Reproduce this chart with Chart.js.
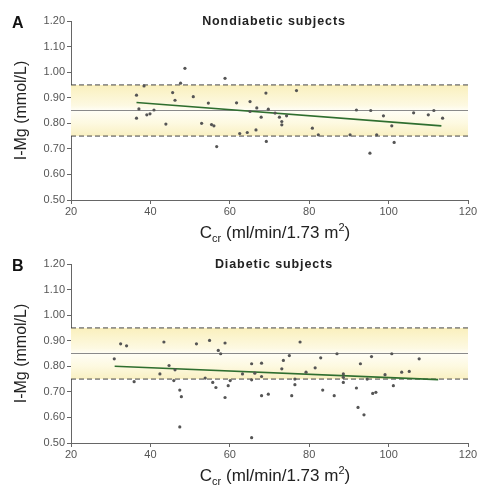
<!DOCTYPE html>
<html>
<head>
<meta charset="utf-8">
<script src="https://cdn.jsdelivr.net/npm/chart.js@4.4.0/dist/chart.umd.min.js"></script>
<style>
  html, body { margin: 0; padding: 0; background: #fff; }
  .panel { position: relative; width: 480px; height: 243px; }
</style>
</head>
<body>
<div class="panel"><canvas id="chartA" width="480" height="243"></canvas></div>
<div class="panel"><canvas id="chartB" width="480" height="243"></canvas></div>
<script>
// Panel A - nondiabetic subjects (Ccr, I-Mg)
const nondiabeticCcr = [36.5, 38.4, 36.5, 37.1, 39.1, 39.9, 40.9, 43.9, 45.6, 46.2, 47.6, 48.7, 50.8, 52.9, 54.6, 55.4, 56.0, 56.7, 58.8, 61.7,
  62.5, 64.4, 65.1, 65.1, 66.8, 66.6, 67.9, 69.1, 69.7, 69.2, 71.4, 72.5, 73.1, 73.1, 74.3, 76.8, 80.8, 82.3, 90.3, 91.9,
  95.5, 95.3, 97.0, 98.7, 100.8, 101.4, 106.3, 110.0, 111.4, 113.6];
const nondiabeticMg = [0.91, 0.946, 0.82, 0.856, 0.833, 0.837, 0.852, 0.797, 0.92, 0.89, 0.957, 1.015, 0.904, 0.80, 0.879, 0.795, 0.79, 0.709, 0.976, 0.88,
  0.76, 0.764, 0.885, 0.846, 0.86, 0.774, 0.824, 0.918, 0.855, 0.729, 0.84, 0.824, 0.807, 0.794, 0.829, 0.928, 0.781, 0.755, 0.755, 0.852,
  0.85, 0.683, 0.755, 0.829, 0.79, 0.725, 0.841, 0.833, 0.85, 0.82];
const nondiabeticTrendCcr = [36.5, 113.3];
const nondiabeticTrendMg = [0.881, 0.79];

// Panel B - diabetic subjects
const diabeticCcr = [30.9, 32.5, 34.0, 35.9, 42.4, 43.4, 44.7, 46.2, 45.9, 47.4, 47.8, 47.4, 51.6, 53.8, 54.9, 55.7, 56.5, 57.1, 57.7, 58.8,
  58.8, 59.6, 60.1, 63.2, 65.5, 68.0, 66.3, 65.5, 68.0, 68.0, 69.7, 65.5, 73.5, 73.1, 75.0, 77.7, 76.4, 75.6, 76.4, 79.2,
  81.5, 82.9, 83.4, 86.3, 87.0, 88.6, 88.6, 88.6, 91.9, 92.3, 92.9, 93.8, 94.6, 95.7, 96.0, 96.8, 99.1, 100.8, 101.2, 103.3,
  105.2, 107.7];
const diabeticMg = [0.829, 0.888, 0.88, 0.74, 0.77, 0.895, 0.803, 0.786, 0.744, 0.707, 0.681, 0.563, 0.888, 0.754, 0.901, 0.737, 0.717, 0.862, 0.849, 0.891,
  0.678, 0.724, 0.744, 0.77, 0.81, 0.812, 0.773, 0.747, 0.76, 0.685, 0.691, 0.521, 0.823, 0.79, 0.842, 0.895, 0.728, 0.685, 0.75, 0.777,
  0.794, 0.833, 0.707, 0.685, 0.849, 0.77, 0.737, 0.757, 0.715, 0.639, 0.81, 0.61, 0.75, 0.838, 0.694, 0.698, 0.767, 0.849, 0.724, 0.777,
  0.78, 0.829];
const diabeticTrendCcr = [31.0, 112.5];
const diabeticTrendMg = [0.80, 0.748];

// Reference range (mmol/L): lower limit, mean, upper limit
const refLower = 0.75;
const refMean = 0.85;
const refUpper = 0.95;

const xMin = 20, xMax = 120, xStep = 20;
const yMin = 0.5, yMax = 1.2, yStep = 0.1;

const FONT = '"Liberation Sans", Arial, sans-serif';

function pairs(xs, ys) {
  return xs.map((x, i) => ({ x, y: ys[i] }));
}

function hLine(y) {
  return [{ x: xMin, y }, { x: xMax, y }];
}

function bandGradient(ctx) {
  const chart = ctx.chart;
  const area = chart.chartArea;
  if (!area) return 'rgba(250,240,190,0.7)';
  const ys = chart.scales.y;
  const top = ys.getPixelForValue(refUpper);
  const bot = ys.getPixelForValue(refLower);
  const g = chart.ctx.createLinearGradient(0, top, 0, bot);
  g.addColorStop(0, '#faf0bd');
  g.addColorStop(0.4, '#fdf9e2');
  g.addColorStop(0.5, '#fffef6');
  g.addColorStop(0.75, '#fdf9e0');
  g.addColorStop(1, '#f9f0c2');
  return g;
}

// panel letter, bold title and x title with sub/superscript
const annotations = {
  id: 'annotations',
  afterDraw(chart, args, opts) {
    const { ctx } = chart;
    ctx.save();
    ctx.fillStyle = '#111';
    ctx.textBaseline = 'alphabetic';
    ctx.font = 'bold 16px ' + FONT;
    ctx.textAlign = 'left';
    ctx.fillText(opts.letter, 12, 28);

    ctx.font = 'bold 12.5px ' + FONT;
    ctx.textAlign = 'center';
    ctx.fillStyle = '#222';
    ctx.letterSpacing = '0.9px';
    ctx.fillText(opts.title, 274, 25);
    ctx.letterSpacing = '0px';

    // C_cr (ml/min/1.73 m^2)
    const parts = [
      { t: 'C', f: '17px ' + FONT, dy: 0 },
      { t: 'cr', f: '11px ' + FONT, dy: 4 },
      { t: ' (ml/min/1.73 m', f: '17px ' + FONT, dy: 0 },
      { t: '2', f: '11px ' + FONT, dy: -7 },
      { t: ')', f: '17px ' + FONT, dy: 0 }
    ];
    let total = 0;
    parts.forEach(p => { ctx.font = p.f; p.w = ctx.measureText(p.t).width; total += p.w; });
    let x = 275 - total / 2;
    const base = 238;
    ctx.textAlign = 'left';
    ctx.fillStyle = '#222';
    parts.forEach(p => {
      ctx.font = p.f;
      ctx.fillText(p.t, x, base + p.dy);
      x += p.w;
    });
    ctx.restore();
  }
};

function makeChart(id, letter, title, xs, ys, trendX, trendY) {
  return new Chart(document.getElementById(id), {
    type: 'line',
    data: {
      datasets: [
        {
          data: pairs(xs, ys), showLine: false, order: 0,
          pointStyle: 'circle', pointRadius: 1.6, pointHoverRadius: 1.6,
          pointBackgroundColor: '#555', pointBorderColor: '#555', pointBorderWidth: 0
        },
        {
          data: pairs(trendX, trendY), order: 1, pointRadius: 0,
          borderColor: '#2f6e2f', borderWidth: 1.6, fill: false
        },
        {
          data: hLine(refMean), order: 2, pointRadius: 0,
          borderColor: '#8a8a8a', borderWidth: 1, fill: false
        },
        {
          data: hLine(refUpper), order: 2, pointRadius: 0,
          borderColor: '#444', borderWidth: 1, borderDash: [5, 3], fill: false
        },
        {
          data: hLine(refLower), order: 2, pointRadius: 0,
          borderColor: '#444', borderWidth: 1, borderDash: [5, 3], fill: false
        },
        {
          data: hLine(refUpper), order: 3, pointRadius: 0, borderWidth: 0,
          borderColor: 'rgba(0,0,0,0)', backgroundColor: bandGradient,
          fill: { value: refLower }
        }
      ]
    },
    options: {
      responsive: false,
      animation: false,
      events: [],
      layout: { padding: { left: 0, right: 12, top: 21, bottom: 0 } },
      plugins: {
        legend: { display: false },
        tooltip: { enabled: false },
        annotations: { letter, title }
      },
      scales: {
        x: {
          type: 'linear', min: xMin, max: xMax,
          afterFit: s => { s.height = 43; },
          ticks: { stepSize: xStep, color: '#555', padding: 1, font: { family: FONT, size: 11 } },
          grid: { drawOnChartArea: false, tickLength: 4, color: '#666' },
          border: { display: true, color: '#666', width: 1 }
        },
        y: {
          type: 'linear', min: yMin, max: yMax,
          afterFit: s => { s.width = 71; },
          ticks: {
            stepSize: yStep, color: '#555', padding: 2, font: { family: FONT, size: 11 },
            callback: v => v.toFixed(2)
          },
          grid: { drawOnChartArea: false, tickLength: 4, color: '#666' },
          border: { display: true, color: '#666', width: 1 },
          title: {
            display: true, text: 'I-Mg (mmol/L)', color: '#222',
            font: { family: FONT, size: 16 }, padding: { top: 12, bottom: 0 }
          }
        }
      }
    },
    plugins: [annotations]
  });
}

makeChart('chartA', 'A', 'Nondiabetic subjects', nondiabeticCcr, nondiabeticMg, nondiabeticTrendCcr, nondiabeticTrendMg);
makeChart('chartB', 'B', 'Diabetic subjects', diabeticCcr, diabeticMg, diabeticTrendCcr, diabeticTrendMg);
</script>
</body>
</html>
